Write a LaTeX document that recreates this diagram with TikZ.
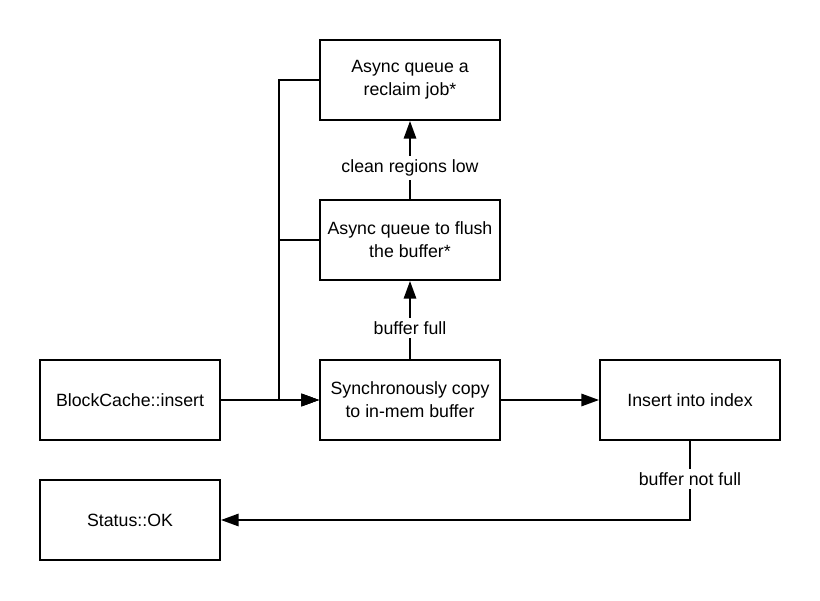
\documentclass[tikz,border=0pt]{standalone}
\usepackage{fontspec}
\setmainfont{Liberation Sans}
\usepackage{tikz}
\usetikzlibrary{arrows.meta, positioning, calc}

\begin{document}
\begin{tikzpicture}[
    font=\fontsize{10.1}{13}\selectfont,
    stepbox/.style={draw, line width=1.1pt, minimum width=3.6cm, minimum height=1.6cm, align=center},
    flow/.style={-{Triangle[length=10pt, width=7pt]}, line width=1.1pt},
    cond/.style={fill=white, inner sep=2pt}
  ]
  \useasboundingbox (0,0) rectangle (16.4,12);

  % Main row
  \node[stepbox] (insert) at (2.6, 4.0) {BlockCache::insert};
  \node[stepbox] (copy) at (8.2, 4.0) {Synchronously copy\\to in-mem buffer};
  \node[stepbox] (index) at (13.8, 4.0) {Insert into index};
  \node[stepbox] (ok) at (2.6, 1.6) {Status::OK};

  % Async jobs
  \node[stepbox] (flush) at (8.2, 7.2) {Async queue to flush\\the buffer*};
  \node[stepbox] (reclaim) at (8.2, 10.4) {Async queue a\\reclaim job*};

  \draw[flow] (insert) -- (copy);
  \draw[flow] (copy) -- node[cond, pos=0.4] {buffer full} (flush);
  \draw[flow] (flush) -- node[cond, pos=0.4] {clean regions low} (reclaim);
  \draw[flow] (copy) -- (index);
  \draw[flow] (index.south) |- node[cond, pos=0.24] {buffer not full} (ok.east);

  % Back into the copy step
  \draw[flow] (flush.west) -- ++(-0.8,0) |- (copy.west);
  \draw[flow] (reclaim.west) -- ++(-0.8,0) |- (copy.west);
\end{tikzpicture}
\end{document}
